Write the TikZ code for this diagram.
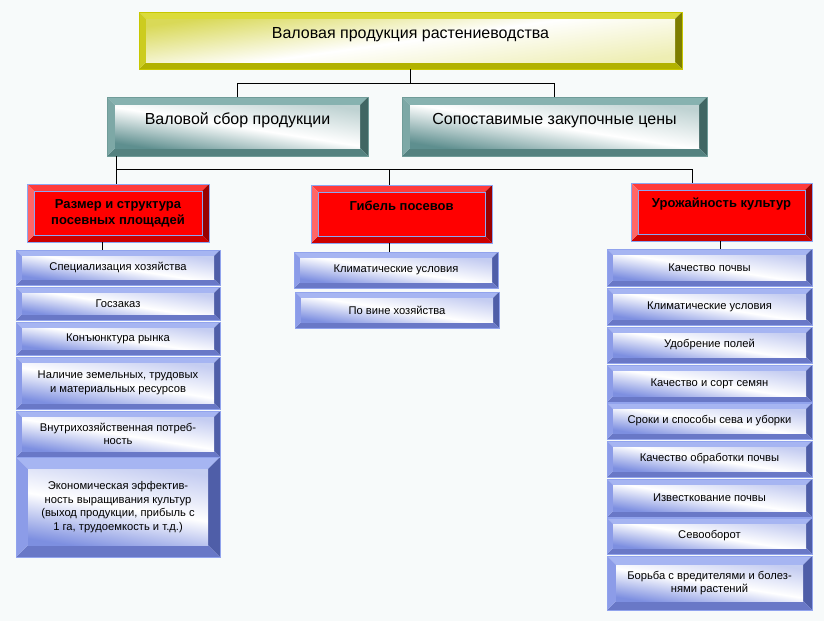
\documentclass[tikz,border=0pt]{standalone}
\usepackage{xcolor}
\usepackage{fontspec}
\setmainfont{Liberation Sans}
\usepackage{tikz}
\usetikzlibrary{shapes,positioning,calc}
\definecolor{bgcol}{rgb}{0.97, 0.98, 0.98}
\definecolor{yelT}{rgb}{0.86, 0.86, 0.23}
\definecolor{yelL}{rgb}{0.80, 0.80, 0.12}
\definecolor{yelR}{rgb}{0.49, 0.49, 0.0}
\definecolor{yelB}{rgb}{0.70, 0.70, 0.0}
\definecolor{yelF}{rgb}{0.85, 0.85, 0.34}
\definecolor{yelO}{rgb}{0.78, 0.78, 0.0}
\definecolor{tealT}{rgb}{0.53, 0.70, 0.69}
\definecolor{tealL}{rgb}{0.49, 0.66, 0.65}
\definecolor{tealR}{rgb}{0.25, 0.40, 0.39}
\definecolor{tealB}{rgb}{0.33, 0.51, 0.50}
\definecolor{tealF}{rgb}{0.37, 0.56, 0.56}
\definecolor{tealO}{rgb}{0.44, 0.61, 0.60}
\definecolor{redT}{rgb}{1.0, 0.23, 0.23}
\definecolor{redL}{rgb}{1.0, 0.40, 0.40}
\definecolor{redR}{rgb}{0.60, 0.0, 0.0}
\definecolor{redB}{rgb}{0.80, 0.0, 0.0}
\definecolor{redO}{rgb}{0.55, 0.65, 0.95}
\definecolor{bluT}{rgb}{0.65, 0.71, 0.95}
\definecolor{bluL}{rgb}{0.55, 0.61, 0.91}
\definecolor{bluR}{rgb}{0.31, 0.37, 0.66}
\definecolor{bluB}{rgb}{0.41, 0.47, 0.78}
\definecolor{bluF}{rgb}{0.49, 0.56, 0.88}
\definecolor{bluO}{rgb}{0.57, 0.64, 0.93}
\colorlet{bvT}{black}\colorlet{bvL}{black}\colorlet{bvR}{black}\colorlet{bvB}{black}
\colorlet{bvF}{white}\colorlet{bvG}{white}\colorlet{bvM}{white}\colorlet{bvO}{black}
\def\fo{0}\def\sang{0}

\tikzset{
    bw/.store in=\bw, bw=6pt,
    bevel/.style={rectangle, inner sep=0pt, outer sep=0pt, draw=bvO, align=center,
        path picture={
            \path (path picture bounding box.north west) coordinate (p1)
                  (path picture bounding box.north east) coordinate (p2)
                  (path picture bounding box.south east) coordinate (p3)
                  (path picture bounding box.south west) coordinate (p4);
            \path ([xshift=\bw,yshift=-\bw]p1) coordinate (q1)
                  ([xshift=-\bw,yshift=-\bw]p2) coordinate (q2)
                  ([xshift=-\bw,yshift=\bw]p3) coordinate (q3)
                  ([xshift=\bw,yshift=\bw]p4) coordinate (q4);
            \fill[bvT] (p1) -- (p2) -- (q2) -- (q1) -- cycle;
            \fill[bvR] (p2) -- (p3) -- (q3) -- (q2) -- cycle;
            \fill[bvB] (p3) -- (p4) -- (q4) -- (q3) -- cycle;
            \fill[bvL] (p4) -- (p1) -- (q1) -- (q4) -- cycle;
            \shade[top color=bvG, bottom color=bvF, middle color=bvM, shading angle=\sang] (q1) rectangle (q3);
            \draw[bvO, draw opacity=\fo] (q1) rectangle (q3);
        }},
    yelbox/.style={/utils/exec={\colorlet{bvT}{yelT}\colorlet{bvL}{yelL}\colorlet{bvR}{yelR}\colorlet{bvB}{yelB}%
        \colorlet{bvG}{yelF}\colorlet{bvF}{yelF!45}\colorlet{bvM}{white}\colorlet{bvO}{yelO}\def\fo{0}\def\sang{8}},
        bevel, bw=7pt, font=\fontsize{16}{19}\selectfont},
    tealbox/.style={/utils/exec={\colorlet{bvT}{tealT}\colorlet{bvL}{tealL}\colorlet{bvR}{tealR}\colorlet{bvB}{tealB}%
        \colorlet{bvG}{tealF!40}\colorlet{bvF}{tealF}\colorlet{bvM}{white}\colorlet{bvO}{tealO}\def\fo{0}\def\sang{-9}},
        bevel, bw=8pt, minimum height=59pt, text height=12pt, text depth=16pt,
        font=\fontsize{16}{19}\selectfont},
    redbox/.style={/utils/exec={\colorlet{bvT}{redT}\colorlet{bvL}{redL}\colorlet{bvR}{redR}\colorlet{bvB}{redB}%
        \colorlet{bvG}{red}\colorlet{bvF}{red}\colorlet{bvM}{red}\colorlet{bvO}{redO}\def\fo{1}\def\sang{0}},
        bevel, bw=7pt, minimum width=181pt, minimum height=58pt,
        font=\fontsize{13}{16}\selectfont\bfseries},
    blubox/.style={/utils/exec={\colorlet{bvT}{bluT}\colorlet{bvL}{bluL}\colorlet{bvR}{bluR}\colorlet{bvB}{bluB}%
        \colorlet{bvG}{bluF!45}\colorlet{bvF}{bluF}\colorlet{bvM}{white}\colorlet{bvO}{bluO}\def\fo{0}\def\sang{-9}},
        bevel, bw=6pt, minimum width=204pt, minimum height=36pt,
        font=\fontsize{11.2}{13.5}\selectfont},
}

\begin{document}
\begin{tikzpicture}[x=1pt, y=-1pt]

    \fill[bgcol] (0,0) rectangle (824,621);

    % top level
    \node[yelbox, minimum width=543pt, minimum height=57pt, text height=12pt, text depth=16.5pt] (prod) at (410.5,40.5) {Валовая продукция растениеводства};

    \node[tealbox, minimum width=261pt] (sbor) at (237.5,126.5) {Валовой сбор продукции};
    \node[tealbox, minimum width=305pt] (ceny) at (554.5,126.5) {Сопоставимые закупочные цены};

    % factors
    \node[redbox, minimum width=182pt] (plosh) at (118,213) {Размер и структура\\посевных площадей};
    \node[redbox, text height=9pt, text depth=16.4pt] (gibel) at (401.5,214) {Гибель посевов};
    \node[redbox, text height=9pt, text depth=18.4pt] (urozh) at (721.5,212) {Урожайность культур};

    % left column
    \node[blubox, minimum height=35pt] (spec) at (118,267.5) {Специализация хозяйства};
    \node[blubox, minimum height=33pt] (zakaz) at (118,303.5) {Госзаказ};
    \node[blubox, minimum height=33pt] (rynok) at (118,338.5) {Конъюнктура рынка};
    \node[blubox, minimum height=52pt] (resurs) at (118,383) {Наличие земельных, трудовых\\и материальных ресурсов};
    \node[blubox, minimum height=46pt] (potreb) at (118,434) {Внутрихозяйственная потреб-\\ность};
    \node[blubox, minimum height=100pt, bw=12pt] (effekt) at (118,507) {Экономическая эффектив-\\ность выращивания культур\\(выход продукции, прибыль с\\1 га, трудоемкость и т.д.)};

    % middle column
    \node[blubox] (klimat) at (396,270) {Климатические условия};
    \node[blubox] (vina) at (397,310) {По вине хозяйства};

    % right column
    \node[blubox, minimum width=205pt, minimum height=37pt] (pochva) at (709.5,267.5) {Качество почвы};
    \node[blubox, minimum width=205pt, minimum height=37pt] (klimr) at (709.5,306.5) {Климатические условия};
    \node[blubox, minimum width=205pt] (udobr) at (709.5,345) {Удобрение полей};
    \node[blubox, minimum width=205pt, minimum height=37pt] (semena) at (709.5,383.5) {Качество и сорт семян};
    \node[blubox, minimum width=205pt] (sroki) at (709.5,421) {Сроки и способы сева и уборки};
    \node[blubox, minimum width=205pt] (obrab) at (709.5,459) {Качество обработки почвы};
    \node[blubox, minimum width=205pt, minimum height=38pt] (izvest) at (709.5,498) {Известкование почвы};
    \node[blubox, minimum width=205pt] (sevo) at (709.5,536) {Севооборот};
    \node[blubox, minimum width=205pt, minimum height=54pt, bw=9pt] (borba) at (709.5,583) {Борьба с вредителями и болез-\\нями растений};

    \coordinate (fork) at (389,169);

    \draw[-] (prod.south) -- ++(0,14) -| (sbor.north);
    \draw[-] (prod.south) -- ++(0,14) -| (ceny.north);
    \draw[-] ([xshift=9pt]sbor.south west) -- ++(0,13) -| ([xshift=61pt]urozh.north west);
    \draw[-] ([xshift=9pt]sbor.south west) -- ([xshift=-2pt]plosh.north);
    \draw[-] (fork) -- ([xshift=-12.5pt]gibel.north);
    \draw[-] ([xshift=-16pt]plosh.south) -- ([xshift=-16pt]spec.north);
    \draw[-] ([xshift=-12.5pt]gibel.south) -- ([xshift=-7pt]klimat.north);
    \draw[-] ([xshift=-1.5pt]urozh.south) -- ([xshift=10.5pt]pochva.north);

\end{tikzpicture}
\end{document}
